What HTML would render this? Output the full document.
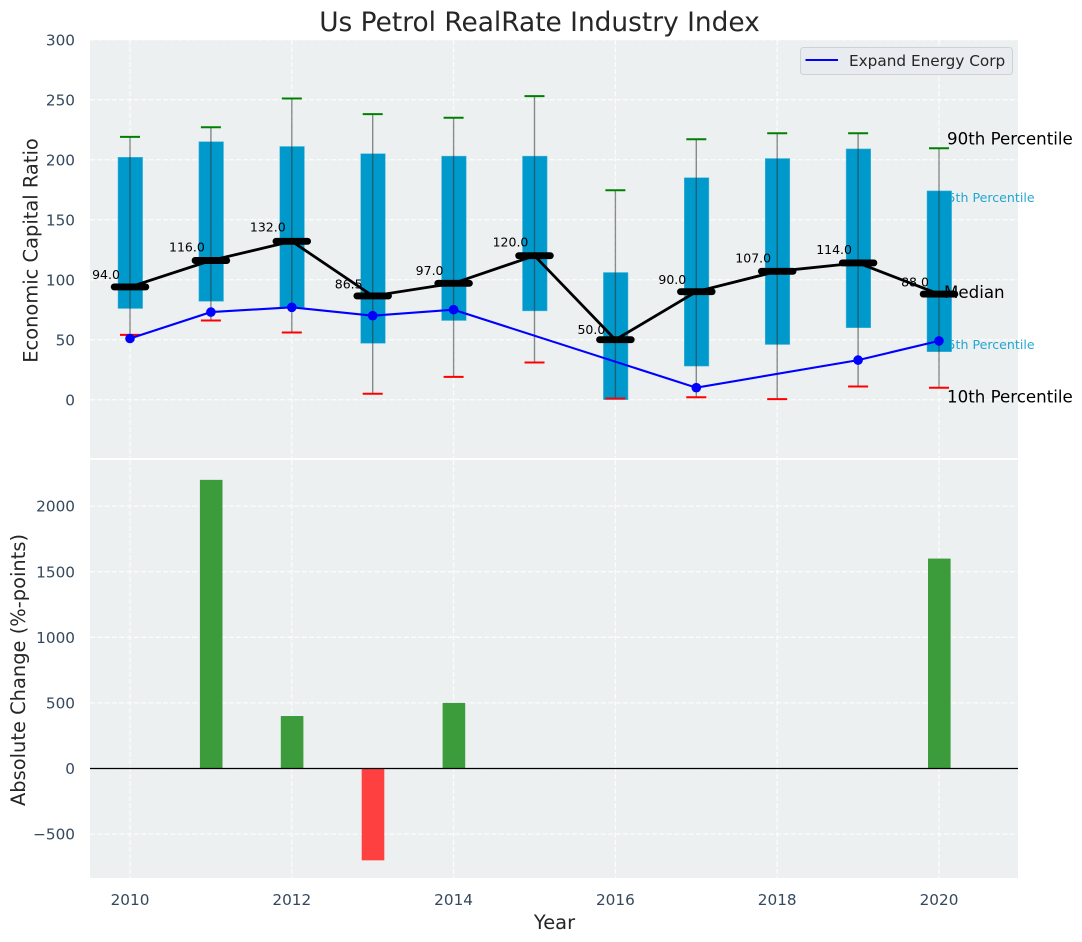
<!DOCTYPE html>
<html>
<head>
<meta charset="utf-8">
<title>Us Petrol RealRate Industry Index</title>
<style>
html,body{margin:0;padding:0;background:#fff;}
svg{display:block;}
text{font-family:"DejaVu Sans","Liberation Sans",sans-serif;}
</style>
</head>
<body>
<svg id="chart" width="1082" height="942" viewBox="0 0 1082 942" xmlns="http://www.w3.org/2000/svg">
<text x="539.5" y="31" font-size="26.4" text-anchor="middle" fill="#262626">Us Petrol RealRate Industry Index</text>
<text transform="translate(37.5,250.5) rotate(-90)" font-size="19.44" text-anchor="middle" fill="#262626">Economic Capital Ratio</text>
<text transform="translate(25,670) rotate(-90)" font-size="19.44" text-anchor="middle" fill="#262626">Absolute Change (%-points)</text>
<text x="554.5" y="929" font-size="19.44" text-anchor="middle" fill="#262626">Year</text>
<rect x="90" y="40" width="928" height="418" fill="#ecf0f1"/>
<rect x="90" y="460" width="928" height="418" fill="#ecf0f1"/>
<g id="layer"></g>
</svg>
<script>
// Chart data
const years = [2010, 2011, 2012, 2013, 2014, 2015, 2016, 2017, 2018, 2019, 2020];
const p90 = [219, 227, 251, 238, 235, 253, 174.5, 217, 222, 222, 209.5];
const p75 = [202, 215, 211, 205, 203, 203, 106, 185, 201, 209, 174];
const median = [94, 116, 132, 86.5, 97, 120, 50, 90, 107, 114, 88];
const p25 = [76, 82, 77, 47, 66, 74, 0, 28, 46, 60, 40];
const p10 = [54, 66, 56, 5, 19, 31, 1, 2, 0.5, 11, 10];
const companySeries = [51, 73, 77, 70, 75, null, null, 10, null, 33, 49];
const changeSeries = [null, 2200, 400, -700, 500, null, null, null, null, null, 1600];
const xTicks = [2010, 2012, 2014, 2016, 2018, 2020];
const topYTicks = [0, 50, 100, 150, 200, 250, 300];
const bottomYTicks = [-500, 0, 500, 1000, 1500, 2000];

// Axis functions
function xAxis(v) { return 130 + (v - 2010) * 80.9; }
function yTop(v) { return 399.7 - v * 1.2; }
function yBottom(v) { return 768.5 - v * 0.1312; }

const NS = 'http://www.w3.org/2000/svg';
const layer = document.getElementById('layer');
function make(tag, props, txt) {
  const el = document.createElementNS(NS, tag);
  for (const k in props) el.setAttribute(k, props[k]);
  if (txt !== undefined) el.textContent = txt;
  layer.appendChild(el);
  return el;
}
let el;

// Grid lines
xTicks.forEach(function (t) {
  el = make('line', {x1: xAxis(t), x2: xAxis(t), y1: 40, y2: 458, stroke: '#fff', 'stroke-width': 1.3, 'stroke-dasharray': '5.1 2.2', opacity: 0.8});
  
  
  el = make('line', {x1: xAxis(t), x2: xAxis(t), y1: 460, y2: 878, stroke: '#fff', 'stroke-width': 1.3, 'stroke-dasharray': '5.1 2.2', opacity: 0.8});
  
  
  el = make('text', {x: xAxis(t), y: 905, 'font-size': 15.28, 'text-anchor': 'middle', fill: '#34495e'}, String(t));
  
  
});
topYTicks.forEach(function (t) {
  el = make('line', {x1: 90, x2: 1018, y1: yTop(t), y2: yTop(t), stroke: '#fff', 'stroke-width': 1.3, 'stroke-dasharray': '5.1 2.2', opacity: 0.8});
  
  
  el = make('text', {x: 75, y: yTop(t) + 5.8, 'font-size': 15.28, 'text-anchor': 'end', fill: '#34495e'}, String(t));
  
  
});
bottomYTicks.forEach(function (t) {
  el = make('line', {x1: 90, x2: 1018, y1: yBottom(t), y2: yBottom(t), stroke: '#fff', 'stroke-width': 1.3, 'stroke-dasharray': '5.1 2.2', opacity: 0.8});
  
  
  el = make('text', {x: 75, y: yBottom(t) + 5.6, 'font-size': 15.28, 'text-anchor': 'end', fill: '#34495e'}, String(t).replace('-', '\u2212'));
  
  
});

// Percentile annotations under the boxes
const last = years.length - 1;
el = make('text', {x: xAxis(years[last]) + 0.5, y: yTop(p75[last]) + 11.3, 'font-size': 12.6, fill: '#0099cc', opacity: 0.85}, '75th Percentile');


el = make('text', {x: xAxis(years[last]) + 0.5, y: yTop(p25[last]) - 2.7, 'font-size': 12.6, fill: '#0099cc', opacity: 0.85}, '25th Percentile');



// Boxes
years.forEach(function (yr, i) {
  el = make('rect', {x: xAxis(yr) - 12, width: 24.6, y: yTop(p75[i]), height: yTop(p25[i]) - yTop(p75[i]), fill: '#0099cc', stroke: '#4db8db', 'stroke-width': 0.5});
  
  
});

// Whiskers and caps
years.forEach(function (yr, i) {
  el = make('line', {x1: xAxis(yr), x2: xAxis(yr), y1: yTop(p90[i]), y2: yTop(p10[i]), stroke: '#333', 'stroke-opacity': 0.55, 'stroke-width': 1.4});
  
  
  el = make('line', {x1: xAxis(yr) - 10, x2: xAxis(yr) + 10, y1: yTop(p90[i]), y2: yTop(p90[i]), stroke: '#008000', 'stroke-width': 2});
  
  
  el = make('line', {x1: xAxis(yr) - 10, x2: xAxis(yr) + 10, y1: yTop(p10[i]), y2: yTop(p10[i]), stroke: '#ff0000', 'stroke-width': 2});
  
  
});

// Median line, ticks and labels
el = make('polyline', {points: years.map(function (yr, i) { return xAxis(yr) + ',' + yTop(median[i]); }).join(' '), fill: 'none', stroke: '#000', 'stroke-width': 2.8});


years.forEach(function (yr, i) {
  el = make('line', {x1: xAxis(yr) - 15.8, x2: xAxis(yr) + 15.8, y1: yTop(median[i]), y2: yTop(median[i]), stroke: '#000', 'stroke-width': 6.9, 'stroke-linecap': 'round'});
  
  
  el = make('text', {x: xAxis(yr) - 24, y: yTop(median[i] * 1.045 + 2.4), 'font-size': 12.5, 'text-anchor': 'middle', fill: '#000'}, median[i].toFixed(1));
  
  
});

// Company series
const companyYears = years.filter(function (yr, i) { return companySeries[i] !== null; });
const companyValues = companySeries.filter(function (v) { return v !== null; });
el = make('polyline', {points: companyYears.map(function (yr, i) { return xAxis(yr) + ',' + yTop(companyValues[i]); }).join(' '), fill: 'none', stroke: '#0000ff', 'stroke-width': 2.1});


companyYears.forEach(function (yr, i) {
  el = make('circle', {cx: xAxis(yr), cy: yTop(companyValues[i]), r: 4.8, fill: '#0000ff'});
  
  
});

// Change bars
years.forEach(function (yr, i) {
  const v = changeSeries[i];
  if (v === null) return;
  el = make('rect', {x: xAxis(yr) - 11, width: 22.6, y: Math.min(yBottom(v), yBottom(0)), height: Math.abs(yBottom(v) - yBottom(0)), fill: v >= 0 ? '#3c9c3c' : '#ff4040'});
  
  
});
el = make('line', {x1: 90, x2: 1018, y1: yBottom(0), y2: yBottom(0), stroke: '#000', 'stroke-width': 1.3});



// Remaining annotations
el = make('text', {x: xAxis(years[last]) + 8, y: yTop(p90[last]) - 4, 'font-size': 16.67, fill: '#000'}, '90th Percentile');


el = make('text', {x: xAxis(years[last]) + 5, y: yTop(median[last]) + 4, 'font-size': 16.67, fill: '#000'}, 'Median');


el = make('text', {x: xAxis(years[last]) + 8, y: yTop(p10[last]) + 15, 'font-size': 16.67, fill: '#000'}, '10th Percentile');



// Legend
el = make('rect', {x: 800.5, y: 47.5, width: 212, height: 27, rx: 3, fill: '#e8ebf0', stroke: '#cfd1d4', 'stroke-width': 1});


el = make('line', {x1: 805.5, x2: 838, y1: 60, y2: 60, stroke: '#0000ff', 'stroke-width': 2});


el = make('text', {x: 849, y: 66, 'font-size': 15.28, fill: '#262626'}, 'Expand Energy Corp');


</script>
</body>
</html>
